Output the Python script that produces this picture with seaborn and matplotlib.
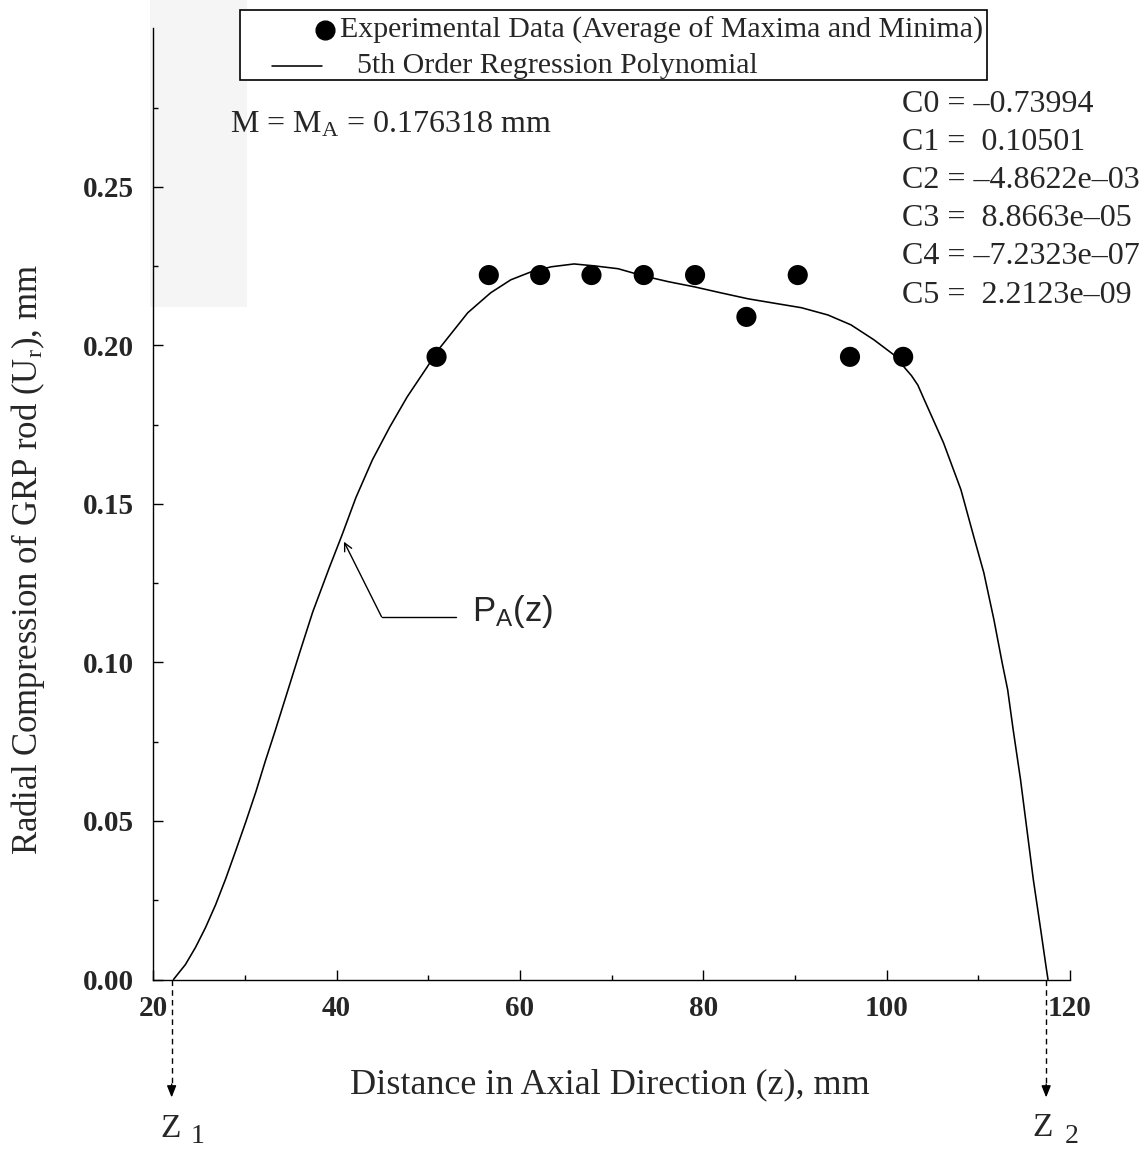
import matplotlib
matplotlib.use("Agg")
import matplotlib.pyplot as plt
import seaborn as sns
from matplotlib.lines import Line2D
from matplotlib.patches import Rectangle

# ---------------- data ----------------
exp_z = [50.9, 56.6, 62.2, 67.8, 73.5, 79.1, 84.7, 90.3, 96.0, 101.8]
exp_u = [0.1964, 0.2222, 0.2222, 0.2222, 0.2222, 0.2222, 0.2090, 0.2222, 0.1964, 0.1964]

curve_z = [22.2, 23.5, 24.6, 25.7, 26.8, 27.9, 29.0, 30.1, 31.2, 32.2,
           33.3, 34.7, 36.0, 37.4, 39.2, 40.6, 42.1, 43.9, 45.8, 47.7,
           49.9, 51.0, 54.3, 56.8, 59.0, 61.2, 63.4, 65.9, 68.1, 70.7,
           73.5, 76.2, 79.0, 81.9, 84.9, 88.2, 90.7, 93.6, 96.1, 98.6,
           100.8, 102.1, 102.7, 103.4, 104.1, 106.2, 108.1, 109.5, 110.6, 111.7,
           112.6, 113.2, 113.8, 114.6, 115.3, 116.0, 116.8, 117.4, 117.6]
curve_u = [0.0, 0.0047, 0.0101, 0.0164, 0.0236, 0.0318, 0.0407, 0.0498, 0.0593, 0.0687,
           0.0785, 0.0914, 0.1034, 0.1160, 0.1299, 0.1403, 0.1520, 0.1639, 0.1743, 0.1838,
           0.1933, 0.1983, 0.2103, 0.2166, 0.2207, 0.2232, 0.2248, 0.2257, 0.2251, 0.2242,
           0.2219, 0.2201, 0.2185, 0.2166, 0.2147, 0.2131, 0.2119, 0.2096, 0.2065, 0.2018,
           0.1970, 0.1925, 0.1905, 0.1875, 0.1829, 0.1693, 0.1545, 0.1397, 0.1283, 0.1135,
           0.0999, 0.0914, 0.0788, 0.0631, 0.0473, 0.0315, 0.0158, 0.0038, 0.0]

coef_names = ["C0", "C1", "C2", "C3", "C4", "C5"]
coef_values = ["\u20130.73994", " 0.10501", "\u20134.8622e\u201303",
               " 8.8663e\u201305", "\u20137.2323e\u201307", " 2.2123e\u201309"]

z1 = 22.0
z2 = 117.4

x_major = [20, 40, 60, 80, 100, 120]
x_minor = [30, 50, 70, 90, 110]
y_major = [0.00, 0.05, 0.10, 0.15, 0.20, 0.25]
y_minor = [0.025, 0.075, 0.125, 0.175, 0.225, 0.275]

legend_labels = ["Experimental Data (Average of Maxima and Minima)",
                 "5th Order Regression Polynomial"]
m_text = "M = M$_{\\mathregular{A}}$ = 0.176318 mm"
x_label = "Distance in Axial Direction (z), mm"
y_label = "Radial Compression of GRP rod (U$_{\\mathregular{r}}$), mm"

# annotation arrow for P_A(z)
pa_tip = (40.8, 0.1381)
pa_corner = (44.9, 0.1144)
pa_end = (53.0, 0.1144)
pa_text_pos = (54.8, 0.1160)

# ---------------- style ----------------
sns.set_theme(style="ticks")
plt.rcParams["font.family"] = ["Liberation Serif", "DejaVu Serif"]
plt.rcParams["mathtext.fontset"] = "custom"
plt.rcParams["mathtext.rm"] = "Liberation Serif"
plt.rcParams["mathtext.it"] = "Liberation Serif:italic"
plt.rcParams["mathtext.bf"] = "Liberation Serif:bold"
plt.rcParams["axes.linewidth"] = 1.0

W, H = 1148, 1150
fig = plt.figure(figsize=(W / 100, H / 100), dpi=100)
fig.patch.set_facecolor("white")

def fx(px):
    return px / W

def fy(py):
    return 1 - py / H

ax_left, ax_right, ax_top, ax_bottom = 153.3, 1070.0, 28.4, 979.5
ax = fig.add_axes([fx(ax_left), fy(ax_bottom), (ax_right - ax_left) / W, (ax_bottom - ax_top) / H])
ax.set_facecolor("none")

# faint scan shading at upper left
fig.add_artist(Rectangle((fx(150), fy(307)), 97 / W, 307 / H, transform=fig.transFigure,
                         facecolor="#f5f5f5", edgecolor="none", zorder=-5))

sns.lineplot(x=curve_z, y=curve_u, ax=ax, color="black", linewidth=1.15,
             sort=False, estimator=None, legend=False, zorder=2,
             solid_joinstyle="round", solid_capstyle="round")
sns.scatterplot(x=exp_z, y=exp_u, ax=ax, color="black", s=210, edgecolor="none",
                legend=False, zorder=3)

ax.set_xlim(20, 120)
ax.set_ylim(0, 0.30)
sns.despine(ax=ax)
for sp in ["left", "bottom"]:
    ax.spines[sp].set_color("black")
    ax.spines[sp].set_linewidth(1.0)

ax.set_xticks(x_major, labels=[str(v) for v in x_major], fontweight="bold", fontsize=21)
ax.set_xticks(x_minor, minor=True)
ax.set_yticks(y_major, labels=[f"{v:.2f}" for v in y_major], fontweight="bold", fontsize=21)
ax.set_yticks(y_minor, minor=True)
ax.tick_params(which="major", direction="in", length=7.5, width=1.0, color="black")
ax.tick_params(which="minor", direction="in", length=3.8, width=1.0, color="black")
ax.tick_params(axis="x", which="major", pad=11)
ax.tick_params(axis="y", which="major", pad=14)

ax.set_xlabel(x_label, fontsize=26)
ax.xaxis.set_label_coords(0.498, -0.093)
ax.set_ylabel(y_label, fontsize=25)
ax.yaxis.set_label_coords(-0.116, 0.441)

# manual legend box
fig.add_artist(Rectangle((fx(240), fy(80)), 747 / W, 70 / H, transform=fig.transFigure,
                         facecolor="white", edgecolor="black", linewidth=1.2))
fig.add_artist(Line2D([fx(325)], [fy(30)], marker="o", markersize=13.5, color="black",
                      linestyle="none", transform=fig.transFigure))
fig.add_artist(Line2D([fx(272), fx(322)], [fy(66), fy(66)], color="black", linewidth=1.15,
                      transform=fig.transFigure))
fig.text(fx(340), fy(30), legend_labels[0], fontsize=21.5, va="center", ha="left")
fig.text(fx(357), fy(66), legend_labels[1], fontsize=21.5, va="center", ha="left")

# M text and coefficients
fig.text(fx(230), fy(125), m_text, fontsize=23, va="center", ha="left")
for i, (n, v) in enumerate(zip(coef_names, coef_values)):
    fig.text(fx(901.7), fy(104 + 38.2 * i), f"{n} = {v}", fontsize=23, va="center", ha="left")

# P_A(z) annotation
ax.plot([pa_corner[0], pa_end[0]], [pa_corner[1], pa_end[1]], color="black", linewidth=1.0)
ax.annotate("", xy=pa_tip, xytext=pa_corner,
            arrowprops=dict(arrowstyle="->", color="black", lw=1.0, shrinkA=0, shrinkB=0,
                            mutation_scale=14))
ax.text(pa_text_pos[0], pa_text_pos[1], "P$_{\\mathregular{A}}$(z)", fontsize=25,
        family=["Liberation Sans", "DejaVu Sans"], va="center", ha="left")

# z1 / z2 dashed arrows below the axis
for zz in (z1, z2):
    ax.plot([zz, zz], [0, -0.0335], color="black", linewidth=1.0, linestyle=(0, (4, 3)),
            clip_on=False)
    ax.annotate("", xy=(zz, -0.0372), xytext=(zz, -0.0330), annotation_clip=False,
                arrowprops=dict(arrowstyle="-|>,head_length=0.5,head_width=0.2",
                                color="black", lw=1.0, shrinkA=0, shrinkB=0, mutation_scale=14))

fig.text(fx(160), fy(1137), "Z", fontsize=24, ha="left", va="baseline")
fig.text(fx(191), fy(1143), "1", fontsize=20, ha="left", va="baseline")
fig.text(fx(1032), fy(1136), "Z", fontsize=24, ha="left", va="baseline")
fig.text(fx(1065), fy(1143), "2", fontsize=20, ha="left", va="baseline")

fig.savefig("out.png", dpi=100, facecolor="white")
